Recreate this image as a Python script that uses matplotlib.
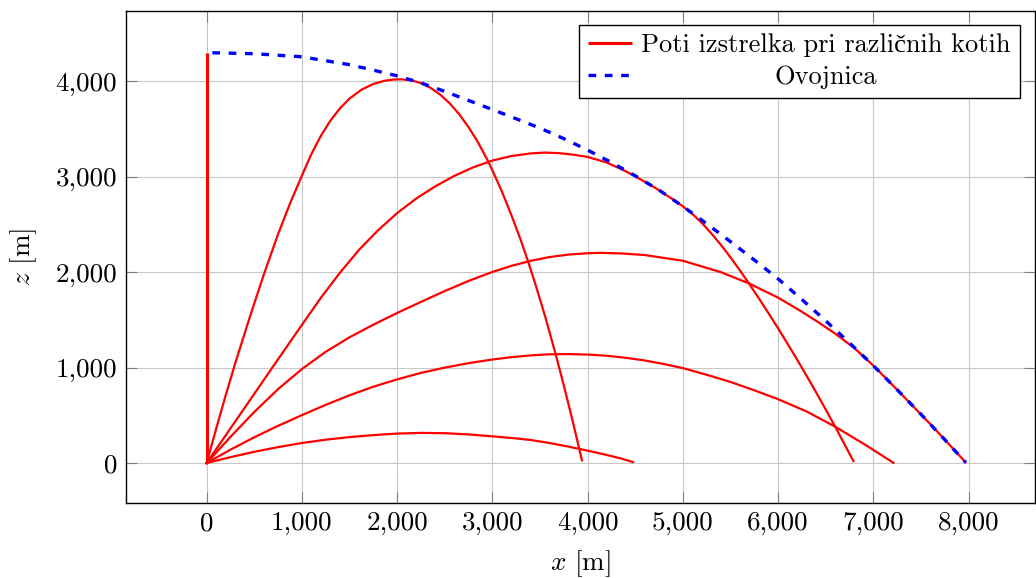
import matplotlib
matplotlib.use("Agg")
import matplotlib.pyplot as plt
from matplotlib.ticker import FuncFormatter, MultipleLocator

plt.rcParams['font.family'] = ['cmr10', 'Liberation Serif']
plt.rcParams['mathtext.fontset'] = 'cm'
plt.rcParams['axes.formatter.use_mathtext'] = True

# trajectories (x in m, z in m)
vert_x = [0, 0]
vert_z = [0, 4300]

t2_x = [0, 100, 200, 300, 450, 600, 750, 880, 995, 1095, 1200, 1300, 1400, 1500, 1624,
        1750, 1869, 1960, 2043, 2150, 2250, 2350, 2450, 2550, 2650, 2750, 2850, 2951,
        3000, 3100, 3200, 3300, 3371, 3450, 3550, 3667, 3760, 3850, 3940]
t2_z = [0, 360, 710, 1045, 1520, 1975, 2400, 2732, 3000, 3229, 3431, 3590, 3718, 3820, 3912,
        3973, 4007, 4019, 4022, 4011, 3982, 3933, 3863, 3772, 3658, 3520, 3359, 3170,
        3068, 2845, 2597, 2330, 2125, 1878, 1549, 1130, 773, 409, 28]

t3_x = [0, 250, 500, 750, 1000, 1200, 1400, 1600, 1800, 2000, 2200, 2400, 2600, 2800,
        3000, 3200, 3400, 3545, 3700, 3850, 4000, 4200, 4400, 4500, 4700, 4900, 5000,
        5100, 5200, 5300, 5400, 5500, 5600, 5700, 5800, 5900, 6000, 6100, 6200, 6300,
        6400, 6500, 6600, 6700, 6790]
t3_z = [0, 363, 725, 1088, 1448, 1733, 1995, 2235, 2440, 2620, 2772, 2900, 3010, 3100,
        3170, 3218, 3245, 3254, 3248, 3232, 3208, 3150, 3058, 3005, 2890, 2760, 2690,
        2610, 2515, 2405, 2285, 2155, 2017, 1872, 1722, 1568, 1410, 1248, 1082, 912,
        738, 560, 378, 190, 20]

t4_x = [0, 250, 500, 750, 1000, 1250, 1500, 1750, 2000, 2250, 2500, 2750, 3000, 3200,
        3400, 3600, 3800, 4000, 4130, 4350, 4600, 5000, 5400, 5700, 6000, 6230, 6400,
        6600, 6800, 7000, 7200, 7400, 7600, 7800, 7965]
t4_z = [0, 274, 535, 775, 985, 1166, 1318, 1450, 1573, 1689, 1803, 1909, 2003, 2067,
        2119, 2159, 2185, 2199, 2203, 2197, 2180, 2120, 2000, 1880, 1733, 1597, 1490,
        1355, 1205, 1020, 818, 612, 405, 190, 10]

t5_x = [0, 250, 500, 750, 1000, 1250, 1500, 1750, 2000, 2250, 2500, 2750, 3000, 3200,
        3400, 3600, 3800, 4000, 4200, 4400, 4600, 4800, 5000, 5250, 5500, 5750, 6000,
        6300, 6600, 6900, 7210]
t5_z = [0, 140, 270, 390, 502, 610, 710, 800, 877, 945, 1000, 1047, 1085, 1110,
        1128, 1140, 1142, 1137, 1125, 1103, 1075, 1038, 995, 925, 850, 762, 669,
        540, 380, 200, 3]

t6_x = [0, 250, 500, 750, 1000, 1250, 1500, 1750, 2000, 2250, 2500, 2750, 3000, 3200,
        3400, 3600, 3800, 4000, 4200, 4350, 4476]
t6_z = [0, 62, 118, 167, 210, 245, 272, 293, 309, 316, 313, 300, 280, 263,
        242, 210, 172, 130, 85, 48, 10]

env_x = [60, 500, 1000, 1500, 1750, 2000, 2250, 2500, 2750, 3000, 3250, 3500, 3750, 4000,
         4250, 4500, 4750, 5000, 5250, 5500, 5750, 6000, 6250, 6500, 6750, 7000, 7250,
         7500, 7750, 7970]
env_z = [4300, 4290, 4258, 4175, 4118, 4058, 3984, 3895, 3800, 3705, 3608, 3510, 3400, 3280,
         3150, 3010, 2860, 2690, 2508, 2320, 2128, 1930, 1713, 1490, 1258, 1020, 768,
         510, 244, 5]

paths = [(t2_x, t2_z), (t3_x, t3_z), (t4_x, t4_z), (t5_x, t5_z), (t6_x, t6_z)]

fig = plt.figure(figsize=(10.36, 5.78), dpi=100)
ax = fig.add_axes([0.1213, 0.1292, 0.8781, 0.8518])

h_red, = ax.plot(vert_x, vert_z, color='#ff0000', lw=2.2, solid_capstyle='butt')
for px, pz in paths:
    ax.plot(px, pz, color='#ff0000', lw=1.6)
h_env, = ax.plot(env_x, env_z, color='#0000ff', lw=2.4, linestyle=(0, (2.3, 2.6)), zorder=3)

ax.set_xlim(-850, 8700)
ax.set_ylim(-422, 4738)
ax.xaxis.set_major_locator(MultipleLocator(1000))
ax.yaxis.set_major_locator(MultipleLocator(1000))
fmt = FuncFormatter(lambda v, pos: f"{v:,.0f}")
ax.xaxis.set_major_formatter(fmt)
ax.yaxis.set_major_formatter(fmt)

ax.grid(True, color='#c8c8c8', lw=0.8)
ax.set_axisbelow(True)
ax.tick_params(direction='in', top=True, right=True, length=7.9, width=0.8,
               color='#808080', labelsize=19.5, pad=6)
for s in ax.spines.values():
    s.set_color('black')
    s.set_linewidth(1.0)

ax.set_xlabel('$x$ [m]', fontsize=19.5, labelpad=9)
ax.set_ylabel('$z$ [m]', fontsize=19.5, labelpad=12)

leg = ax.legend([h_red, h_env], ['Poti izstrelka pri različnih kotih', 'Ovojnica'],
                loc='upper right', bbox_to_anchor=(0.983, 0.972), borderaxespad=0,
                fancybox=False, edgecolor='black', framealpha=1, fontsize=19,
                handlelength=1.7, handletextpad=0.34, borderpad=0.34, labelspacing=0.3)
leg.get_frame().set_linewidth(1.0)

# centre the second legend label like pgfplots does
fig.canvas.draw()
r = fig.canvas.get_renderer()
w0 = leg.texts[0].get_window_extent(r).width
w1 = leg.texts[1].get_window_extent(r).width
row = leg._legend_handle_box.get_children()[0].get_children()[1]
row.sep += (w0 - w1) / 2 * 72 / fig.dpi

fig.savefig('out.png', dpi=100)
